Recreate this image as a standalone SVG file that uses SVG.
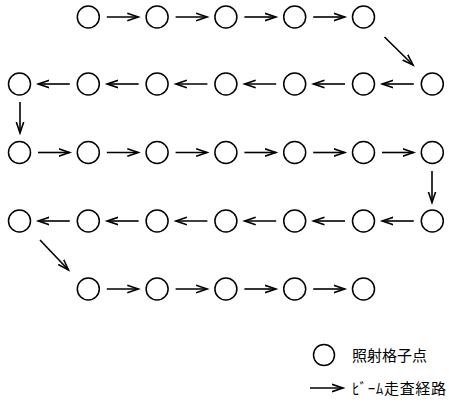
<svg xmlns="http://www.w3.org/2000/svg" width="449" height="406" viewBox="0 0 449 406">
<style>
.n circle{fill:none;stroke:#000;stroke-width:1.5}
.c line{stroke:#000;stroke-width:1.6;marker-end:url(#ah)}
.t{font-family:"Noto Sans CJK JP","Noto Sans CJK SC",sans-serif;font-size:15px;fill:#000}
</style>
<defs>
<marker id="ah" markerUnits="userSpaceOnUse" markerWidth="14" markerHeight="10" refX="11" refY="5" orient="auto">
<path d="M0,1.3 L11,5 L0,8.7" fill="none" stroke="#000" stroke-width="1.6"/>
</marker>
</defs>
<g id="r1" class="n">
<g id="n1-1"><circle cx="88.3" cy="17" r="11"/></g>
<g id="n1-2"><circle cx="157.1" cy="17" r="11"/></g>
<g id="n1-3"><circle cx="225.9" cy="17" r="11"/></g>
<g id="n1-4"><circle cx="294.7" cy="17" r="11"/></g>
<g id="n1-5"><circle cx="363.5" cy="17" r="11"/></g>
</g>
<g id="r2" class="n">
<g id="n2-0"><circle cx="19.5" cy="84" r="11"/></g>
<g id="n2-1"><circle cx="88.3" cy="84" r="11"/></g>
<g id="n2-2"><circle cx="157.1" cy="84" r="11"/></g>
<g id="n2-3"><circle cx="225.9" cy="84" r="11"/></g>
<g id="n2-4"><circle cx="294.7" cy="84" r="11"/></g>
<g id="n2-5"><circle cx="363.5" cy="84" r="11"/></g>
<g id="n2-6"><circle cx="432.3" cy="84" r="11"/></g>
</g>
<g id="r3" class="n">
<g id="n3-0"><circle cx="19.5" cy="152.5" r="11"/></g>
<g id="n3-1"><circle cx="88.3" cy="152.5" r="11"/></g>
<g id="n3-2"><circle cx="157.1" cy="152.5" r="11"/></g>
<g id="n3-3"><circle cx="225.9" cy="152.5" r="11"/></g>
<g id="n3-4"><circle cx="294.7" cy="152.5" r="11"/></g>
<g id="n3-5"><circle cx="363.5" cy="152.5" r="11"/></g>
<g id="n3-6"><circle cx="432.3" cy="152.5" r="11"/></g>
</g>
<g id="r4" class="n">
<g id="n4-0"><circle cx="19.5" cy="221" r="11"/></g>
<g id="n4-1"><circle cx="88.3" cy="221" r="11"/></g>
<g id="n4-2"><circle cx="157.1" cy="221" r="11"/></g>
<g id="n4-3"><circle cx="225.9" cy="221" r="11"/></g>
<g id="n4-4"><circle cx="294.7" cy="221" r="11"/></g>
<g id="n4-5"><circle cx="363.5" cy="221" r="11"/></g>
<g id="n4-6"><circle cx="432.3" cy="221" r="11"/></g>
</g>
<g id="r5" class="n">
<g id="n5-1"><circle cx="88.3" cy="289" r="11"/></g>
<g id="n5-2"><circle cx="157.1" cy="289" r="11"/></g>
<g id="n5-3"><circle cx="225.9" cy="289" r="11"/></g>
<g id="n5-4"><circle cx="294.7" cy="289" r="11"/></g>
<g id="n5-5"><circle cx="363.5" cy="289" r="11"/></g>
</g>
<g id="connectors" class="c">
<line x1="106.8" y1="17" x2="138.3" y2="17"/>
<line x1="175.6" y1="17" x2="207.1" y2="17"/>
<line x1="244.4" y1="17" x2="275.9" y2="17"/>
<line x1="313.2" y1="17" x2="344.7" y2="17"/>
<line x1="384.5" y1="37" x2="413" y2="65"/>
<line x1="413.8" y1="84" x2="382.3" y2="84"/>
<line x1="345" y1="84" x2="313.5" y2="84"/>
<line x1="276.2" y1="84" x2="244.7" y2="84"/>
<line x1="207.4" y1="84" x2="175.9" y2="84"/>
<line x1="138.6" y1="84" x2="107.1" y2="84"/>
<line x1="69.8" y1="84" x2="38.3" y2="84"/>
<line x1="20" y1="102" x2="20" y2="133"/>
<line x1="38" y1="152.5" x2="69.5" y2="152.5"/>
<line x1="106.8" y1="152.5" x2="138.3" y2="152.5"/>
<line x1="175.6" y1="152.5" x2="207.1" y2="152.5"/>
<line x1="244.4" y1="152.5" x2="275.9" y2="152.5"/>
<line x1="313.2" y1="152.5" x2="344.7" y2="152.5"/>
<line x1="382" y1="152.5" x2="413.5" y2="152.5"/>
<line x1="432" y1="171" x2="432" y2="202.5"/>
<line x1="413.8" y1="221" x2="382.3" y2="221"/>
<line x1="345" y1="221" x2="313.5" y2="221"/>
<line x1="276.2" y1="221" x2="244.7" y2="221"/>
<line x1="207.4" y1="221" x2="175.9" y2="221"/>
<line x1="138.6" y1="221" x2="107.1" y2="221"/>
<line x1="69.8" y1="221" x2="38.3" y2="221"/>
<line x1="40" y1="240" x2="68.5" y2="270"/>
<line x1="106.8" y1="289" x2="138.3" y2="289"/>
<line x1="175.6" y1="289" x2="207.1" y2="289"/>
<line x1="244.4" y1="289" x2="275.9" y2="289"/>
<line x1="313.2" y1="289" x2="344.7" y2="289"/>
</g>
<g id="legend">
<g id="legend-node" class="n"><circle cx="324" cy="355" r="10.5"/></g>
<text class="t" x="352" y="361">照射格子点</text>
<g class="c"><line x1="310" y1="388" x2="343" y2="388"/></g>
<text class="t" x="352" y="394" textLength="94" lengthAdjust="spacing">ﾋﾞｰﾑ走査経路</text>
</g>
</svg>
